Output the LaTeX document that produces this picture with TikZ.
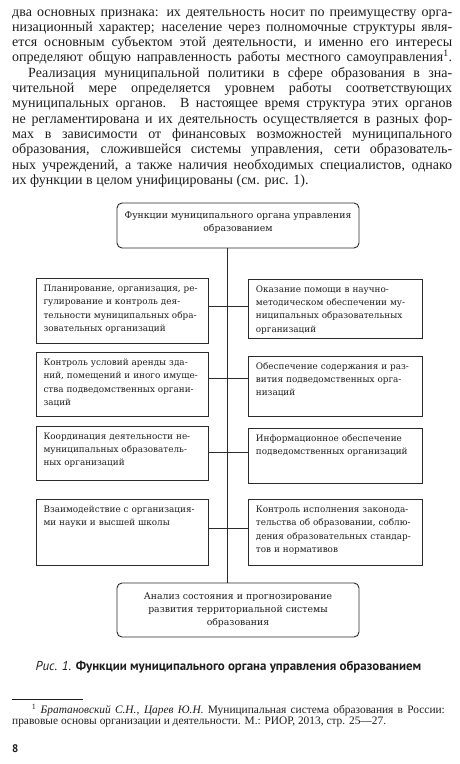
\documentclass[tikz,border=0pt]{standalone}
\usepackage{fontspec}
\setmainfont{Liberation Serif}
\newfontfamily\diagfont{DejaVu Serif}
\newfontfamily\capfont{PT Sans}
\usetikzlibrary{calc}
\definecolor{ink}{HTML}{1E1E1E}
\definecolor{lineink}{HTML}{2B2B2B}
\newcommand{\jl}[1]{\makebox[\linewidth][s]{#1}}
\newcommand{\sj}[2]{\makebox[#1pt][s]{#2}}
\begin{document}
\begin{tikzpicture}[x=1pt,y=-1pt,
  bodytext/.style={inner sep=0pt, anchor=base west, text=ink, font=\fontsize{14}{15.3}\selectfont},
  notetext/.style={inner sep=0pt, anchor=base west, text=ink, font=\fontsize{11.4}{12.5}\selectfont},
  fbox/.style={draw=lineink, line width=0.9pt, inner sep=0pt},
  rbox/.style={fbox, rounded corners=5pt},
  boxtext/.style={inner sep=0pt, anchor=base west, text=ink, align=left,
    font=\diagfont\fontsize{8.85}{13.3}\selectfont},
  ctext/.style={inner sep=0pt, anchor=base, text=ink, align=center, text width=240pt,
    font=\diagfont\fontsize{9.3}{13.3}\selectfont},
  conn/.style={draw=lineink, line width=0.9pt}]
\fill[white] (0,0) rectangle (460,764);
\useasboundingbox (0,0) rectangle (460,764);

% ---- body text
\node[bodytext] (l1) at (12,16) {\sj{440}{два основных признака: их деятельность носит по преимуществу орга-}};
\node[bodytext] (l2) at (12,31.3) {\sj{440}{низационный характер; население через полномочные структуры явля-}};
\node[bodytext] (l3) at (12,46.6) {\sj{440}{ется основным субъектом этой деятельности, и именно его интересы}};
\node[bodytext] (l4) at (12,61.9) {\sj{440}{определяют общую направленность работы местного самоуправления\textsuperscript{1}.}};
\node[bodytext] (l5) at (28,77.2) {\sj{424}{Реализация муниципальной политики в сфере образования в зна-}};
\node[bodytext] (l6) at (12,92.5) {\sj{440}{чительной мере определяется уровнем работы соответствующих}};
\node[bodytext] (l7) at (12,107.8) {\sj{440}{муниципальных органов. В настоящее время структура этих органов}};
\node[bodytext] (l8) at (12,123.1) {\sj{440}{не регламентирована и их деятельность осуществляется в разных фор-}};
\node[bodytext] (l9) at (12,138.4) {\sj{440}{мах в зависимости от финансовых возможностей муниципального}};
\node[bodytext] (l10) at (12,153.7) {\sj{440}{образования, сложившейся системы управления, сети образователь-}};
\node[bodytext] (l11) at (12,169) {\sj{440}{ных учреждений, а также наличия необходимых специалистов, однако}};
\node[bodytext] (l12) at (12,184.3) {их функции в целом унифицированы (см. рис. 1).};

% ---- boxes
\node[rbox, minimum width=242pt, minimum height=45pt] (T) at (238,225.5) {};
\node[rbox, minimum width=242pt, minimum height=54pt] (B) at (238,610) {};
\node[fbox, minimum width=172pt, minimum height=65pt] (L1) at (122,310.5) {};
\node[fbox, minimum width=174pt, minimum height=59pt] (R1) at (335,308.5) {};
\node[fbox, minimum width=172pt, minimum height=64pt] (L2) at (122,384) {};
\node[fbox, minimum width=174pt, minimum height=60pt] (R2) at (335,386) {};
\node[fbox, minimum width=172pt, minimum height=54pt] (L3) at (122,453) {};
\node[fbox, minimum width=174pt, minimum height=55pt] (R3) at (335,455.5) {};
\node[fbox, minimum width=172pt, minimum height=66pt] (L4) at (122,532) {};
\node[fbox, minimum width=174pt, minimum height=66pt] (R4) at (335,532) {};

% ---- box texts
\node[ctext] (tT) at (238,218.6) {Функции муниципального органа управления\\образованием};
\node[ctext] (tB) at (238,599.2) {Анализ состояния и прогнозирование\\развития территориальной системы\\образования};

\node[boxtext, text width=157pt] (tL1) at (43.3,291.4) {\jl{Планирование, организация, ре-}\\\jl{гулирование и контроль дея-}\\\jl{тельности муниципальных обра-}\\зовательных организаций};
\node[boxtext, text width=158.6pt] (tR1) at (255.7,292.2) {\jl{Оказание помощи в научно-}\\\jl{методическом обеспечении му-}\\\jl{ниципальных образовательных}\\организаций};
\node[boxtext, text width=157pt] (tL2) at (43.3,365.4) {\jl{Контроль условий аренды зда-}\\\jl{ний, помещений и иного имуще-}\\\jl{ства подведомственных органи-}\\заций};
\node[boxtext, text width=158.6pt] (tR2) at (255.7,369.2) {\jl{Обеспечение содержания и раз-}\\\jl{вития подведомственных орга-}\\низаций};
\node[boxtext, text width=157pt] (tL3) at (43.3,439.2) {\jl{Координация деятельности не-}\\\jl{муниципальных образователь-}\\ных организаций};
\node[boxtext, text width=158.6pt] (tR3) at (255.7,441.2) {\jl{Информационное обеспечение}\\подведомственных организаций};
\node[boxtext, text width=157pt] (tL4) at (43.3,512.4) {\jl{Взаимодействие с организация-}\\ми науки и высшей школы};
\node[boxtext, text width=158.6pt] (tR4) at (255.7,512.4) {\jl{Контроль исполнения законода-}\\\jl{тельства об образовании, соблю-}\\\jl{дения образовательных стандар-}\\тов и нормативов};

% ---- connectors
\coordinate (sp) at (227,0);
\coordinate (c1) at (227,306);
\coordinate (c2) at (227,378);
\coordinate (c3) at (227,452);
\coordinate (c4) at (227,528);
\draw[conn] (T.south -| sp) -- (B.north -| sp);
\draw[conn] (L1.east |- c1) -- (R1.west |- c1);
\draw[conn] (L2.east |- c2) -- (R2.west |- c2);
\draw[conn] (L3.east |- c3) -- (R3.west |- c3);
\draw[conn] (L4.east |- c4) -- (R4.west |- c4);

% ---- caption
\node[inner sep=0pt, anchor=base, text=ink, font=\capfont\fontsize{12.9}{15}\selectfont] (cap) at (228.5,670)
  {{\itshape Рис. 1.} {\bfseries Функции муниципального органа управления образованием}};

% ---- footnote
\draw[draw=ink, line width=0.5pt] (12,699.3) -- (83,699.3);
\node[notetext] (f1) at (31.7,713.6) {\sj{413}{\textsuperscript{1} \textit{Братановский С.Н., Царев Ю.Н.} Муниципальная система образования в России:}};
\node[notetext] (f2) at (12,724.6) {правовые основы организации и деятельности. М.: РИОР, 2013, стр. 25---27.};

% ---- page number
\node[inner sep=0pt, anchor=base west, text=ink, font=\capfont\bfseries\fontsize{11}{13}\selectfont] (pg) at (12,752) {8};
\end{tikzpicture}
\end{document}
